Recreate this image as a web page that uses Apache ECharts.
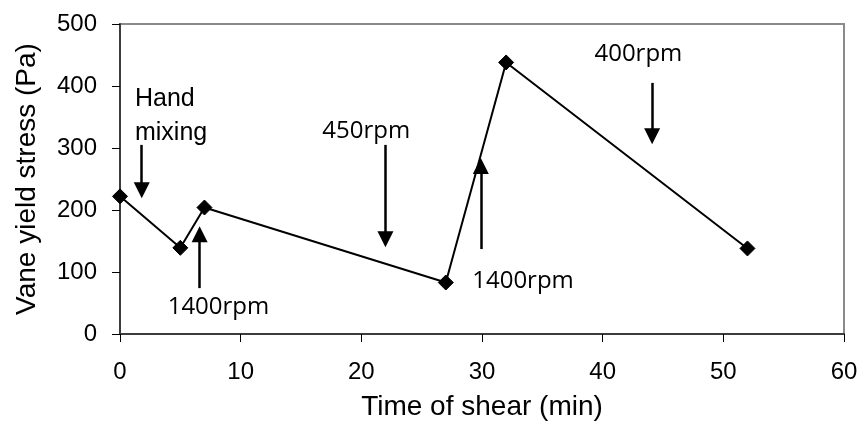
<!DOCTYPE html>
<html>
<head>
<meta charset="utf-8">
<script src="https://cdn.jsdelivr.net/npm/echarts@6/dist/echarts.min.js"></script>
<style>
  html, body { margin: 0; padding: 0; background: #fff; }
  #chart { width: 861px; height: 421px; }
</style>
</head>
<body>
<div id="chart"></div>
<script>
  // measured points
  var timeMin = [0, 5, 7, 27, 32, 52];
  var yieldStress = [222, 139, 204, 83, 438, 138];

  // axis ranges / ticks
  var xMin = 0, xMax = 60, xStep = 10;
  var yMin = 0, yMax = 500, yStep = 100;

  // arrows (x, tail y, head centre y) in data units
  var arrowX = [1.8, 6.6, 22.0, 29.9, 44.1];
  var arrowFrom = [305, 74, 305, 137, 405];
  var arrowTo = [232, 161, 153, 271, 319];

  // annotation texts
  var noteText = ['Hand\nmixing', '1400rpm', '450rpm', '1400rpm', '400rpm'];
  var noteX = [1.24, 8.16, 20.4, 33.4, 42.96];
  var noteY = [405.6, 43.5, 327, 85.5, 451.6];

  var chart = echarts.init(document.getElementById('chart'));

  var lineData = [];
  for (var i = 0; i < timeMin.length; i++) {
    lineData.push([timeMin[i], yieldStress[i]]);
  }

  var arrows = [];
  for (var j = 0; j < arrowX.length; j++) {
    arrows.push([{coord: [arrowX[j], arrowFrom[j]]}, {coord: [arrowX[j], arrowTo[j]]}]);
  }

  var notes = [];
  for (var k = 0; k < noteText.length; k++) {
    var item = {value: [noteX[k], noteY[k], noteText[k]]};
    if (k === 0) {
      // hand mixing: left aligned, two lines, arial-like
      item.label = {align: 'left', verticalAlign: 'top', fontFamily: 'Liberation Sans', fontSize: 25, lineHeight: 34};
    }
    notes.push(item);
  }

  var titleFont = {color: '#000', fontFamily: 'Liberation Sans', fontSize: 28};

  var option = {
    backgroundColor: '#fff',
    animation: false,
    grid: {
      left: 120, right: 17, top: 24, bottom: 87,
      containLabel: false,
      outerBoundsMode: 'none',
      show: true,
      borderColor: '#8a8a8a',
      borderWidth: 2
    },
    xAxis: {
      type: 'value',
      min: xMin, max: xMax, interval: xStep,
      name: 'Time of shear (min)',
      nameLocation: 'middle',
      nameGap: 59,
      nameTextStyle: titleFont,
      axisLine: {show: true, onZero: false, lineStyle: {color: '#3c3c3c', width: 2}},
      axisTick: {show: true, inside: false, length: 8, lineStyle: {color: '#000', width: 1}},
      axisLabel: {margin: 26, color: '#000', fontFamily: 'Liberation Sans', fontSize: 24},
      splitLine: {show: false}
    },
    yAxis: {
      type: 'value',
      min: yMin, max: yMax, interval: yStep,
      name: 'Vane yield stress (Pa)',
      nameLocation: 'middle',
      nameGap: 79,
      nameTextStyle: titleFont,
      axisLine: {show: true, onZero: false, lineStyle: {color: '#3c3c3c', width: 2}},
      axisTick: {show: true, inside: false, length: 8, lineStyle: {color: '#000', width: 1}},
      axisLabel: {margin: 23, color: '#000', fontFamily: 'Liberation Sans', fontSize: 24},
      splitLine: {show: false}
    },
    series: [{
      name: 'stress',
      type: 'line',
      data: lineData,
      symbol: 'diamond',
      symbolSize: 15,
      showAllSymbol: true,
      lineStyle: {color: '#000', width: 2},
      itemStyle: {color: '#000', borderColor: '#000'},
      z: 3,
      markLine: {
        silent: true,
        symbol: ['none', 'triangle'],
        symbolSize: [16, 16],
        lineStyle: {color: '#000', width: 2.5, type: 'solid'},
        label: {show: false},
        data: arrows
      }
    }, {
      name: 'notes',
      type: 'scatter',
      data: notes,
      symbolSize: 1,
      itemStyle: {color: 'rgba(0,0,0,0)', opacity: 1},
      silent: true,
      label: {
        show: true,
        position: 'inside',
        align: 'center',
        verticalAlign: 'middle',
        color: '#000',
        opacity: 1,
        fontFamily: 'Open Sans',
        fontSize: 24,
        formatter: function (p) { return p.value[2]; }
      }
    }]
  };

  chart.setOption(option);
</script>
</body>
</html>
